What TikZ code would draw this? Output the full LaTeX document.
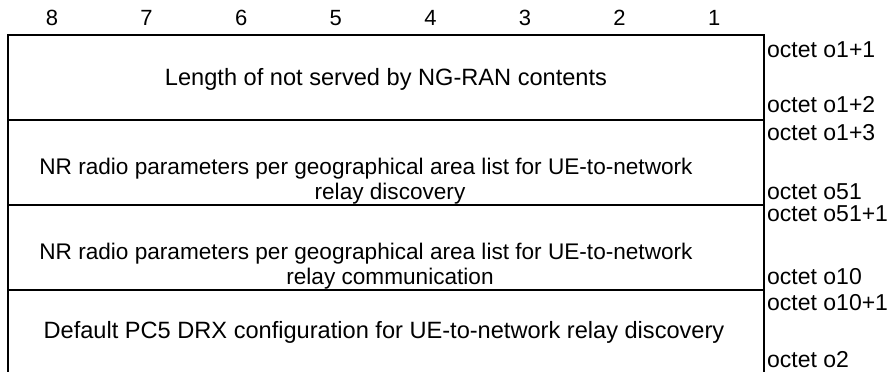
\documentclass[tikz,border=0pt]{standalone}
\usepackage{fontspec}
\setmainfont{Liberation Sans}
\begin{document}
\begin{tikzpicture}[x=1pt,y=-1pt,
  frame/.style={line width=1.5pt,line cap=rect},
  bit/.style={font=\fontsize{22}{25}\selectfont,anchor=center,inner sep=0pt},
  field/.style={align=center,anchor=center,inner sep=0pt},
  octet/.style={font=\fontsize{23}{25}\selectfont,anchor=west,inner sep=0pt}]
\useasboundingbox (0,0) rectangle (894,372);
% bit numbers
\foreach \b [count=\i from 0] in {8,7,6,5,4,3,2,1}
  \node[bit] (bit\b) at (52+94.6*\i,18) {\b};
% frame
\draw[frame] (8,372) -- (8,35) -- (764,35) -- (764,372);
\draw[frame] (8,120) -- (764,120);
\draw[frame] (8,205) -- (764,205);
\draw[frame] (8,290) -- (764,290);
% fields
\node[field,font=\fontsize{23.6}{26}\selectfont] (f1) at (386,79) {Length of not served by NG-RAN contents};
\node[field,font=\fontsize{22.6}{25.5}\selectfont] (f2) at (366,181) {NR radio parameters per geographical area list for UE-to-network\\\hspace*{48pt}relay discovery};
\node[field,font=\fontsize{22.6}{25.5}\selectfont] (f3) at (366,266) {NR radio parameters per geographical area list for UE-to-network\\\hspace*{48pt}relay communication};
\node[field,font=\fontsize{23.6}{26}\selectfont] (f4) at (384,332) {Default PC5 DRX configuration for UE-to-network relay discovery};
% octet labels
\node[octet] (o1) at (767,50) {octet o1+1};
\node[octet] (o2) at (767,105) {octet o1+2};
\node[octet] (o3) at (767,133) {octet o1+3};
\node[octet] (o4) at (767,192) {octet o51};
\node[octet] (o5) at (767,214) {octet o51+1};
\node[octet] (o6) at (767,277) {octet o10};
\node[octet] (o7) at (767,303) {octet o10+1};
\node[octet] (o8) at (767,360) {octet o2};
\end{tikzpicture}
\end{document}
